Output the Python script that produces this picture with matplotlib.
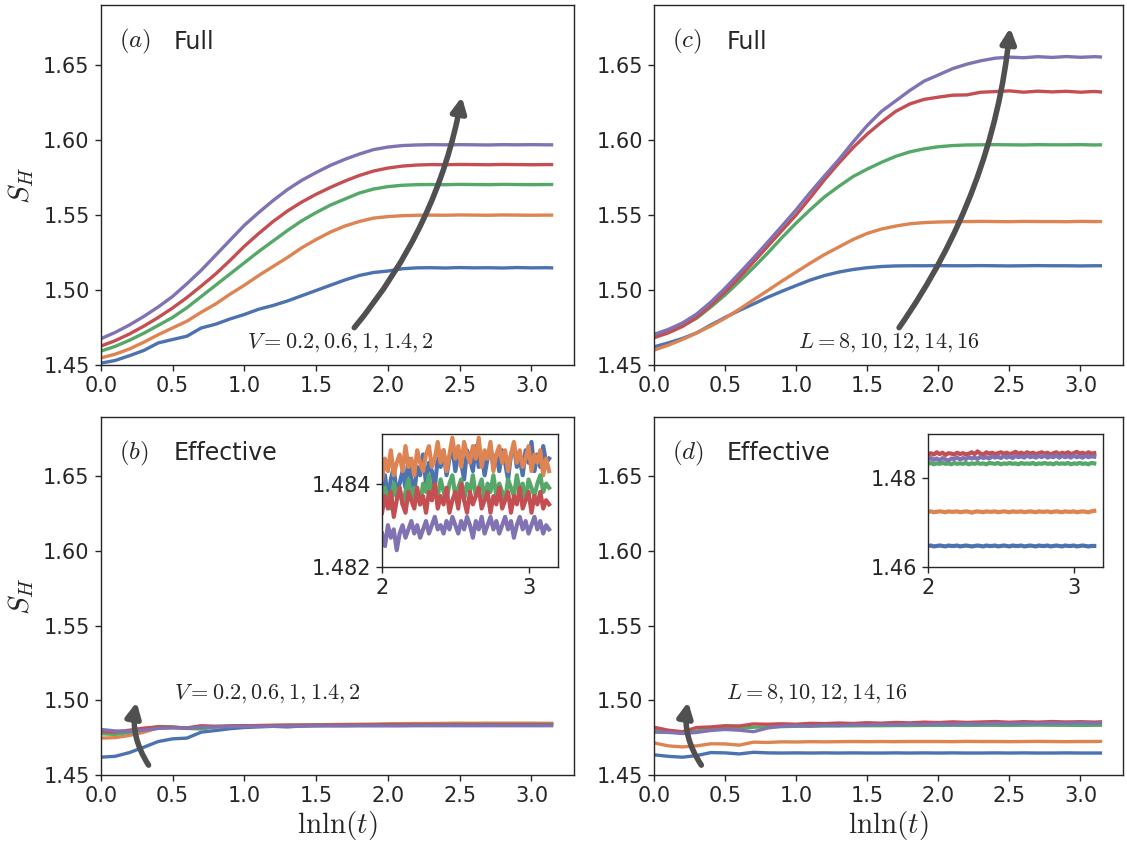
import matplotlib

matplotlib.use("Agg")
import matplotlib.pyplot as plt  # noqa: E402
import numpy as np  # noqa: E402
from matplotlib.ticker import FormatStrFormatter  # noqa: E402

# lnln(t) sample positions of the main panels
X = [0.0, 0.1, 0.2, 0.3, 0.4, 0.5, 0.6, 0.7, 0.8, 0.9,
     1.0, 1.1, 1.2, 1.3, 1.4, 1.5, 1.6, 1.7, 1.8, 1.9,
     2.0, 2.1, 2.2, 2.3, 2.4, 2.5, 2.6, 2.7, 2.8, 2.9, 3.0, 3.1, 3.14]

# (a) full, V = 0.2, 0.6, 1, 1.4, 2
a_blue = [1.4510, 1.4528, 1.4560, 1.4595, 1.4645, 1.4668, 1.4690, 1.4745, 1.4770, 1.4805,
          1.4835, 1.4870, 1.4895, 1.4925, 1.4960, 1.4995, 1.5030, 1.5065, 1.5095, 1.5115,
          1.5125, 1.5140, 1.5146, 1.5147, 1.5145, 1.5148, 1.5146, 1.5147, 1.5145, 1.5148, 1.5146, 1.5147, 1.5146]
a_orange = [1.4545, 1.4570, 1.4605, 1.4650, 1.4700, 1.4745, 1.4790, 1.4850, 1.4905, 1.4970,
            1.5030, 1.5095, 1.5155, 1.5215, 1.5280, 1.5335, 1.5385, 1.5425, 1.5455, 1.5478,
            1.5488, 1.5494, 1.5497, 1.5498, 1.5497, 1.5499, 1.5498, 1.5497, 1.5499, 1.5498, 1.5497, 1.5498, 1.5498]
a_green = [1.4590, 1.4622, 1.4663, 1.4710, 1.4762, 1.4815, 1.4880, 1.4955, 1.5030, 1.5105,
           1.5180, 1.5255, 1.5325, 1.5395, 1.5460, 1.5515, 1.5565, 1.5605, 1.5645, 1.5672,
           1.5688, 1.5697, 1.5701, 1.5702, 1.5701, 1.5703, 1.5702, 1.5701, 1.5703, 1.5702, 1.5701, 1.5702, 1.5702]
a_red = [1.4624, 1.4660, 1.4705, 1.4757, 1.4815, 1.4878, 1.4948, 1.5025, 1.5105, 1.5195,
         1.5290, 1.5375, 1.5455, 1.5525, 1.5585, 1.5637, 1.5683, 1.5725, 1.5762, 1.5792,
         1.5812, 1.5825, 1.5832, 1.5835, 1.5834, 1.5836, 1.5835, 1.5834, 1.5836, 1.5835, 1.5834, 1.5835, 1.5835]
a_purple = [1.4673, 1.4715, 1.4765, 1.4822, 1.4885, 1.4955, 1.5040, 1.5130, 1.5230, 1.5330,
            1.5430, 1.5515, 1.5595, 1.5668, 1.5730, 1.5782, 1.5830, 1.5870, 1.5905, 1.5935,
            1.5952, 1.5962, 1.5966, 1.5968, 1.5967, 1.5968, 1.5967, 1.5966, 1.5968, 1.5967, 1.5968, 1.5967, 1.5967]

# (b) effective, V = 0.2, 0.6, 1, 1.4, 2
b_blue = [1.4619, 1.4625, 1.4650, 1.4686, 1.4724, 1.4742, 1.4747, 1.4787, 1.4798, 1.4810,
          1.4818, 1.4822, 1.4826, 1.4822, 1.4828, 1.4832, 1.4833, 1.4834, 1.4835, 1.4836,
          1.4838, 1.4839, 1.4840, 1.4841, 1.4842, 1.4843, 1.4844, 1.4844, 1.4845, 1.4844, 1.4845, 1.4844, 1.4845]
b_orange = [1.4747, 1.4750, 1.4765, 1.4787, 1.4815, 1.4818, 1.4815, 1.4822, 1.4825, 1.4827,
            1.4829, 1.4831, 1.4832, 1.4834, 1.4835, 1.4836, 1.4838, 1.4839, 1.4840, 1.4841,
            1.4843, 1.4844, 1.4845, 1.4845, 1.4846, 1.4847, 1.4846, 1.4847, 1.4846, 1.4847, 1.4846, 1.4846, 1.4845]
b_green = [1.4776, 1.4772, 1.4785, 1.4805, 1.4825, 1.4822, 1.4812, 1.4808, 1.4822, 1.4826,
           1.4828, 1.4830, 1.4831, 1.4832, 1.4833, 1.4834, 1.4835, 1.4836, 1.4836, 1.4837,
           1.4837, 1.4838, 1.4838, 1.4839, 1.4839, 1.4839, 1.4839, 1.4840, 1.4839, 1.4839, 1.4840, 1.4839, 1.4839]
b_red = [1.4792, 1.4788, 1.4800, 1.4814, 1.4822, 1.4820, 1.4815, 1.4830, 1.4826, 1.4829,
         1.4830, 1.4831, 1.4832, 1.4833, 1.4833, 1.4834, 1.4834, 1.4835, 1.4835, 1.4835,
         1.4836, 1.4836, 1.4836, 1.4836, 1.4836, 1.4836, 1.4836, 1.4836, 1.4836, 1.4836, 1.4836, 1.4836, 1.4836]
b_purple = [1.4805, 1.4795, 1.4792, 1.4800, 1.4812, 1.4815, 1.4814, 1.4820, 1.4822, 1.4824,
            1.4825, 1.4826, 1.4826, 1.4827, 1.4827, 1.4828, 1.4828, 1.4828, 1.4829, 1.4829,
            1.4829, 1.4829, 1.4830, 1.4830, 1.4830, 1.4830, 1.4830, 1.4830, 1.4830, 1.4830, 1.4830, 1.4830, 1.4830]

# (c) full, L = 8, 10, 12, 14, 16
c_blue = [1.4619, 1.4645, 1.4675, 1.4712, 1.4765, 1.4815, 1.4862, 1.4905, 1.4950, 1.4990,
          1.5028, 1.5065, 1.5095, 1.5118, 1.5135, 1.5147, 1.5155, 1.5159, 1.5160, 1.5160,
          1.5161, 1.5160, 1.5160, 1.5161, 1.5160, 1.5159, 1.5160, 1.5161, 1.5160, 1.5160, 1.5159, 1.5160, 1.5160]
c_orange = [1.4597, 1.4630, 1.4668, 1.4712, 1.4758, 1.4810, 1.4870, 1.4933, 1.4995, 1.5058,
            1.5118, 1.5178, 1.5235, 1.5285, 1.5335, 1.5376, 1.5405, 1.5425, 1.5440, 1.5448,
            1.5452, 1.5454, 1.5455, 1.5456, 1.5455, 1.5454, 1.5456, 1.5455, 1.5455, 1.5454, 1.5456, 1.5455, 1.5455]
c_green = [1.4690, 1.4720, 1.4758, 1.4810, 1.4885, 1.4965, 1.5055, 1.5148, 1.5245, 1.5348,
           1.5445, 1.5535, 1.5620, 1.5690, 1.5755, 1.5805, 1.5850, 1.5890, 1.5920, 1.5940,
           1.5954, 1.5962, 1.5966, 1.5967, 1.5968, 1.5967, 1.5966, 1.5968, 1.5967, 1.5967, 1.5968, 1.5966, 1.5967]
c_red = [1.4680, 1.4712, 1.4755, 1.4815, 1.4895, 1.4985, 1.5082, 1.5185, 1.5290, 1.5395,
         1.5500, 1.5615, 1.5735, 1.5845, 1.5948, 1.6039, 1.6118, 1.6190, 1.6240, 1.6270,
         1.6285, 1.6298, 1.6300, 1.6318, 1.6322, 1.6327, 1.6318, 1.6325, 1.6320, 1.6324, 1.6318, 1.6323, 1.6320]
c_purple = [1.4702, 1.4735, 1.4778, 1.4838, 1.4918, 1.5010, 1.5110, 1.5212, 1.5318, 1.5425,
            1.5534, 1.5650, 1.5760, 1.5868, 1.5985, 1.6096, 1.6190, 1.6260, 1.6330, 1.6392,
            1.6433, 1.6475, 1.6505, 1.6528, 1.6545, 1.6552, 1.6548, 1.6555, 1.6550, 1.6556, 1.6551, 1.6555, 1.6553]

# (d) effective, L = 8, 10, 12, 14, 16
d_blue = [1.4635, 1.4625, 1.4619, 1.4630, 1.4650, 1.4648, 1.4641, 1.4652, 1.4648, 1.4647,
          1.4648, 1.4647, 1.4648, 1.4647, 1.4648, 1.4647, 1.4647, 1.4648, 1.4647, 1.4648,
          1.4647, 1.4648, 1.4647, 1.4647, 1.4648, 1.4647, 1.4648, 1.4647, 1.4647, 1.4648, 1.4647, 1.4647, 1.4647]
d_orange = [1.4715, 1.4695, 1.4688, 1.4695, 1.4709, 1.4708, 1.4700, 1.4720, 1.4718, 1.4722,
            1.4721, 1.4723, 1.4722, 1.4723, 1.4724, 1.4723, 1.4724, 1.4723, 1.4724, 1.4724,
            1.4724, 1.4723, 1.4725, 1.4724, 1.4724, 1.4723, 1.4724, 1.4725, 1.4724, 1.4723, 1.4724, 1.4724, 1.4725]
d_green = [1.4798, 1.4790, 1.4787, 1.4795, 1.4808, 1.4814, 1.4812, 1.4820, 1.4822, 1.4824,
           1.4826, 1.4827, 1.4828, 1.4829, 1.4829, 1.4830, 1.4830, 1.4831, 1.4831, 1.4832,
           1.4832, 1.4833, 1.4832, 1.4833, 1.4833, 1.4832, 1.4833, 1.4834, 1.4833, 1.4833, 1.4832, 1.4833, 1.4833]
d_red = [1.4820, 1.4800, 1.4790, 1.4818, 1.4822, 1.4830, 1.4828, 1.4842, 1.4840, 1.4843,
         1.4840, 1.4846, 1.4844, 1.4848, 1.4845, 1.4850, 1.4847, 1.4852, 1.4849, 1.4854,
         1.4851, 1.4856, 1.4852, 1.4855, 1.4858, 1.4853, 1.4857, 1.4854, 1.4858, 1.4855, 1.4857, 1.4854, 1.4856]
d_purple = [1.4787, 1.4785, 1.4778, 1.4785, 1.4798, 1.4805, 1.4800, 1.4790, 1.4815, 1.4827,
            1.4830, 1.4828, 1.4833, 1.4831, 1.4836, 1.4834, 1.4838, 1.4836, 1.4840, 1.4838,
            1.4842, 1.4840, 1.4844, 1.4842, 1.4846, 1.4843, 1.4847, 1.4845, 1.4848, 1.4846, 1.4849, 1.4847, 1.4848]

# insets: late-time window, lnln(t) from 2.0 to 3.14
bi_blue = [1.4838, 1.4842, 1.4836, 1.4841, 1.4844, 1.4837, 1.4840, 1.4843, 1.4839, 1.4846,
           1.4841, 1.4838, 1.4844, 1.4842, 1.4847, 1.4840, 1.4845, 1.4843, 1.4839, 1.4846,
           1.4844, 1.4848, 1.4842, 1.4846, 1.4849, 1.4843, 1.4847, 1.4845, 1.4841, 1.4848,
           1.4846, 1.4843, 1.4849, 1.4844, 1.4847, 1.4842, 1.4846, 1.4849, 1.4844, 1.4847,
           1.4843, 1.4848, 1.4845, 1.4841, 1.4847, 1.4849, 1.4844, 1.4846, 1.4842, 1.4848,
           1.4845, 1.4850, 1.4843, 1.4847, 1.4844, 1.4849, 1.4845, 1.4846]
bi_orange = [1.4841, 1.4846, 1.4843, 1.4848, 1.4842, 1.4845, 1.4847, 1.4843, 1.4849, 1.4844,
             1.4846, 1.4842, 1.4848, 1.4845, 1.4843, 1.4847, 1.4849, 1.4844, 1.4846, 1.4850,
             1.4845, 1.4848, 1.4843, 1.4847, 1.4851, 1.4846, 1.4849, 1.4844, 1.4850, 1.4847,
             1.4845, 1.4849, 1.4846, 1.4851, 1.4844, 1.4848, 1.4846, 1.4850, 1.4843, 1.4847,
             1.4849, 1.4845, 1.4848, 1.4843, 1.4847, 1.4850, 1.4845, 1.4848, 1.4844, 1.4846,
             1.4849, 1.4843, 1.4847, 1.4845, 1.4848, 1.4842, 1.4846, 1.4843]
bi_green = [1.4835, 1.4839, 1.4836, 1.4834, 1.4840, 1.4837, 1.4839, 1.4835, 1.4838, 1.4841,
            1.4836, 1.4839, 1.4837, 1.4835, 1.4840, 1.4838, 1.4842, 1.4836, 1.4839, 1.4837,
            1.4841, 1.4838, 1.4836, 1.4840, 1.4842, 1.4837, 1.4839, 1.4841, 1.4836, 1.4840,
            1.4838, 1.4842, 1.4837, 1.4839, 1.4841, 1.4836, 1.4840, 1.4838, 1.4842, 1.4837,
            1.4840, 1.4838, 1.4836, 1.4841, 1.4839, 1.4837, 1.4842, 1.4838, 1.4840, 1.4836,
            1.4841, 1.4839, 1.4837, 1.4840, 1.4842, 1.4838, 1.4840, 1.4839]
bi_red = [1.4833, 1.4837, 1.4834, 1.4838, 1.4832, 1.4836, 1.4839, 1.4835, 1.4833, 1.4838,
          1.4836, 1.4834, 1.4839, 1.4835, 1.4837, 1.4833, 1.4838, 1.4836, 1.4840, 1.4834,
          1.4837, 1.4835, 1.4839, 1.4833, 1.4836, 1.4838, 1.4834, 1.4840, 1.4836, 1.4833,
          1.4838, 1.4835, 1.4837, 1.4839, 1.4834, 1.4836, 1.4838, 1.4833, 1.4837, 1.4835,
          1.4839, 1.4834, 1.4836, 1.4838, 1.4833, 1.4837, 1.4835, 1.4839, 1.4834, 1.4836,
          1.4838, 1.4833, 1.4837, 1.4835, 1.4838, 1.4834, 1.4836, 1.4835]
bi_purple = [1.4828, 1.4825, 1.4830, 1.4827, 1.4829, 1.4824, 1.4828, 1.4830, 1.4827, 1.4829,
             1.4831, 1.4828, 1.4830, 1.4827, 1.4829, 1.4831, 1.4828, 1.4830, 1.4832, 1.4829,
             1.4830, 1.4828, 1.4831, 1.4829, 1.4832, 1.4830, 1.4828, 1.4831, 1.4829, 1.4832,
             1.4830, 1.4827, 1.4831, 1.4829, 1.4832, 1.4828, 1.4830, 1.4832, 1.4829, 1.4831,
             1.4828, 1.4830, 1.4832, 1.4829, 1.4831, 1.4827, 1.4830, 1.4832, 1.4829, 1.4831,
             1.4828, 1.4830, 1.4832, 1.4829, 1.4831, 1.4828, 1.4830, 1.4829]

di_blue = [1.4647, 1.4648, 1.4646, 1.4647, 1.4648, 1.4647, 1.4646, 1.4648, 1.4647, 1.4647,
           1.4648, 1.4646, 1.4647, 1.4648, 1.4647, 1.4646, 1.4647, 1.4648, 1.4647, 1.4646,
           1.4648, 1.4647, 1.4647, 1.4648, 1.4646, 1.4647, 1.4648, 1.4647, 1.4646, 1.4648,
           1.4647, 1.4647, 1.4648, 1.4646, 1.4647, 1.4648, 1.4647, 1.4646, 1.4648, 1.4647,
           1.4647, 1.4648, 1.4646, 1.4647, 1.4648, 1.4647, 1.4646, 1.4648, 1.4647, 1.4647,
           1.4648, 1.4646, 1.4647, 1.4648, 1.4647, 1.4646, 1.4647, 1.4647]
di_orange = [1.4724, 1.4725, 1.4723, 1.4724, 1.4725, 1.4724, 1.4723, 1.4725, 1.4724, 1.4724,
             1.4725, 1.4723, 1.4724, 1.4725, 1.4724, 1.4722, 1.4724, 1.4725, 1.4724, 1.4723,
             1.4725, 1.4724, 1.4724, 1.4725, 1.4723, 1.4724, 1.4725, 1.4724, 1.4723, 1.4725,
             1.4724, 1.4724, 1.4725, 1.4723, 1.4724, 1.4725, 1.4724, 1.4723, 1.4725, 1.4724,
             1.4724, 1.4725, 1.4723, 1.4724, 1.4725, 1.4724, 1.4723, 1.4725, 1.4724, 1.4724,
             1.4725, 1.4723, 1.4724, 1.4725, 1.4724, 1.4723, 1.4725, 1.4726]
di_green = [1.4832, 1.4834, 1.4831, 1.4833, 1.4832, 1.4834, 1.4832, 1.4833, 1.4831, 1.4834,
            1.4832, 1.4833, 1.4832, 1.4834, 1.4831, 1.4833, 1.4832, 1.4834, 1.4832, 1.4833,
            1.4831, 1.4834, 1.4833, 1.4832, 1.4834, 1.4831, 1.4833, 1.4832, 1.4834, 1.4832,
            1.4833, 1.4831, 1.4834, 1.4832, 1.4833, 1.4832, 1.4834, 1.4831, 1.4833, 1.4832,
            1.4834, 1.4832, 1.4833, 1.4831, 1.4834, 1.4832, 1.4833, 1.4832, 1.4834, 1.4831,
            1.4833, 1.4832, 1.4834, 1.4832, 1.4833, 1.4831, 1.4834, 1.4833]
di_red = [1.4852, 1.4856, 1.4853, 1.4858, 1.4854, 1.4857, 1.4852, 1.4856, 1.4855, 1.4853,
          1.4857, 1.4854, 1.4856, 1.4853, 1.4855, 1.4858, 1.4854, 1.4860, 1.4855, 1.4853,
          1.4858, 1.4855, 1.4857, 1.4854, 1.4856, 1.4858, 1.4855, 1.4857, 1.4854, 1.4856,
          1.4859, 1.4855, 1.4857, 1.4854, 1.4858, 1.4855, 1.4857, 1.4854, 1.4856, 1.4858,
          1.4855, 1.4857, 1.4853, 1.4856, 1.4858, 1.4854, 1.4857, 1.4855, 1.4858, 1.4854,
          1.4856, 1.4859, 1.4855, 1.4857, 1.4854, 1.4858, 1.4855, 1.4856]
di_purple = [1.4842, 1.4845, 1.4841, 1.4844, 1.4840, 1.4845, 1.4842, 1.4839, 1.4844, 1.4843,
             1.4846, 1.4842, 1.4845, 1.4843, 1.4847, 1.4844, 1.4846, 1.4843, 1.4848, 1.4845,
             1.4847, 1.4844, 1.4849, 1.4846, 1.4848, 1.4845, 1.4850, 1.4846, 1.4849, 1.4845,
             1.4850, 1.4847, 1.4849, 1.4846, 1.4851, 1.4847, 1.4849, 1.4846, 1.4850, 1.4847,
             1.4851, 1.4846, 1.4849, 1.4847, 1.4851, 1.4846, 1.4850, 1.4847, 1.4849, 1.4846,
             1.4851, 1.4847, 1.4849, 1.4846, 1.4850, 1.4847, 1.4849, 1.4848]

COLORS = ["#4C72B0", "#DD8452", "#55A868", "#C44E52", "#8172B3"]
ARROW_C = "#505050"
INK = "#262626"

plt.rcParams.update({
    "font.family": "DejaVu Sans",
    "mathtext.fontset": "cm",
    "text.color": INK,
    "axes.edgecolor": INK,
    "axes.labelcolor": INK,
    "axes.linewidth": 1.0,
    "xtick.color": INK,
    "ytick.color": INK,
    "xtick.labelsize": 15,
    "ytick.labelsize": 15,
    "xtick.major.size": 4.5,
    "ytick.major.size": 4.5,
    "xtick.major.width": 1.0,
    "ytick.major.width": 1.0,
})


def main_panel(ax, series, letter, title, note, note_xy, tail, head, rad):
    for y, c in zip(series, COLORS):
        ax.plot(X, y, color=c, lw=2.4)
    ax.set_xlim(left=0)
    ax.set_ylim(1.45, 1.69)
    ax.set_yticks([1.45, 1.50, 1.55, 1.60, 1.65])
    ax.yaxis.set_major_formatter(FormatStrFormatter("%.2f"))
    ax.set_xticks([0.0, 0.5, 1.0, 1.5, 2.0, 2.5, 3.0])
    ax.xaxis.set_major_formatter(FormatStrFormatter("%.1f"))
    ax.text(0.127, 1.6655, letter, fontsize=18, ha="left", va="center")
    ax.text(0.51, 1.6655, title, fontsize=17, ha="left", va="center")
    ax.text(note_xy[0], note_xy[1], note, fontsize=16, ha="left", va="center")
    ax.annotate("", xy=head, xytext=tail,
                arrowprops=dict(arrowstyle="-|>", color=ARROW_C, lw=4,
                                mutation_scale=22, shrinkA=0, shrinkB=0,
                                connectionstyle=f"arc3,rad={rad}"))


def inset(fig, rect, series, ylim, yticks, fmt):
    ax = fig.add_axes(rect)
    for y, c in zip(series, COLORS):
        ax.plot(np.linspace(2.0, 3.14, len(y)), y, color=c, lw=3.0)
    ax.set_xlim(2.0, 3.2)
    ax.set_ylim(*ylim)
    ax.set_xticks([2, 3])
    ax.set_yticks(yticks)
    ax.yaxis.set_major_formatter(FormatStrFormatter(fmt))
    return ax


fig = plt.figure(figsize=(11.27, 8.43), dpi=100)
ax_a = fig.add_axes([0.0894, 0.5674, 0.420, 0.4267])
ax_c = fig.add_axes([0.5803, 0.5674, 0.4159, 0.4267])
ax_b = fig.add_axes([0.0894, 0.0807, 0.420, 0.4249])
ax_d = fig.add_axes([0.5803, 0.0807, 0.4159, 0.4249])

v_note = r"$V = 0.2, 0.6, 1, 1.4, 2$"
l_note = r"$L = 8, 10, 12, 14, 16$"

main_panel(ax_a, [a_blue, a_orange, a_green, a_red, a_purple], r"$(a)$", "Full",
           v_note, (1.02, 1.4646), (1.766, 1.4747), (2.515, 1.6287), 0.13)
main_panel(ax_c, [c_blue, c_orange, c_green, c_red, c_purple], r"$(c)$", "Full",
           l_note, (1.01, 1.4646), (1.724, 1.4747), (2.505, 1.6748), 0.13)
main_panel(ax_b, [b_blue, b_orange, b_green, b_red, b_purple], r"$(b)$", "Effective",
           v_note, (0.51, 1.5046), (0.333, 1.4566), (0.25, 1.4989), -0.2)
main_panel(ax_d, [d_blue, d_orange, d_green, d_red, d_purple], r"$(d)$", "Effective",
           l_note, (0.504, 1.5046), (0.333, 1.4566), (0.24, 1.4990), -0.2)

for ax in (ax_a, ax_b):
    ax.set_ylabel(r"$S_H$", fontsize=21)
    ax.yaxis.set_label_coords(-0.137, 0.5)
for ax in (ax_b, ax_d):
    ax.set_xlabel(r"$\mathrm{lnln}(t)$", fontsize=21, labelpad=2)

inset(fig, [0.339, 0.3276, 0.156, 0.158],
      [bi_blue, bi_orange, bi_green, bi_red, bi_purple],
      (1.482, 1.4852), [1.482, 1.484], "%.3f")
inset(fig, [0.8234, 0.3276, 0.1553, 0.158],
      [di_blue, di_orange, di_green, di_red, di_purple],
      (1.46, 1.49), [1.46, 1.48], "%.2f")

fig.savefig("out.png", dpi=100)
